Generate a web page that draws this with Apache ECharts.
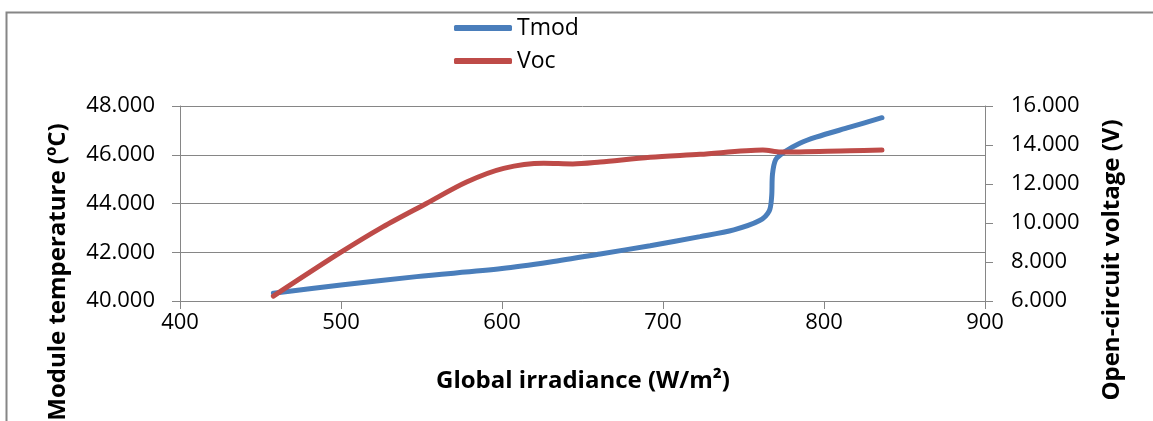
<!DOCTYPE html>
<html>
<head>
<meta charset="utf-8">
<script src="https://cdn.jsdelivr.net/npm/echarts@6/dist/echarts.min.js"></script>
<style>
html,body{margin:0;padding:0;background:#fff;}
#chart{width:1153px;height:421px;}
</style>
</head>
<body>
<div id="chart"></div>
<script>
// Global irradiance (W/m²) and module temperature (°C)
var tmodX = [458, 500, 547, 600, 630, 661, 692, 723, 744, 760, 766, 767.5, 768, 770, 775, 785, 795, 816, 836];
var tmodY = [40.32, 40.66, 41.0, 41.33, 41.6, 41.93, 42.27, 42.64, 42.92, 43.3, 43.7, 44.3, 45.2, 45.8, 46.1, 46.47, 46.72, 47.13, 47.52];
// Global irradiance (W/m²) and open-circuit voltage (V)
var vocX = [458, 499, 526, 553, 578, 601, 626, 644, 661, 692, 723, 762, 773, 816, 836];
var vocY = [6.25, 8.45, 9.8, 11.0, 12.1, 12.8, 13.06, 13.03, 13.13, 13.37, 13.52, 13.74, 13.64, 13.71, 13.74];
var xTicks = {min: 400, max: 900, interval: 100};
var leftTicks = {min: 40, max: 48, interval: 2};
var rightTicks = {min: 6, max: 16, interval: 2};
var seriesNames = ['Tmod', 'Voc'];

function pairs(xs, ys) { return xs.map(function (x, i) { return [x, ys[i]]; }); }

var FONT = "'Open Sans', 'Liberation Sans', sans-serif";
var GRAY = '#868686';
var BLUE = '#4A7EBB', RED = '#BE4B48';
var chart = echarts.init(document.getElementById('chart'), null, {renderer: 'canvas'});
var axisCommon = {
  axisLine: {show: true, lineStyle: {color: GRAY, width: 1}},
  axisTick: {show: true, inside: false, length: 8, lineStyle: {color: GRAY}},
  axisLabel: {color: '#000', fontFamily: FONT, fontSize: 22}
};
chart.setOption({
  animation: false,
  backgroundColor: '#fff',
  legend: {
    orient: 'vertical', left: 449, top: 9,
    itemWidth: 58, itemHeight: 6, itemGap: 5, icon: 'roundRect',
    textStyle: {fontFamily: FONT, fontSize: 23, color: '#000', lineHeight: 28},
    data: [{name: seriesNames[0], itemStyle: {color: BLUE}}, {name: seriesNames[1], itemStyle: {color: RED}}]
  },
  grid: {left: 180, right: 168, top: 106, bottom: 120, containLabel: false},
  xAxis: Object.assign({}, axisCommon, {
    type: 'value', min: xTicks.min, max: xTicks.max, interval: xTicks.interval,
    splitLine: {show: false},
    axisLabel: Object.assign({}, axisCommon.axisLabel, {margin: 11})
  }),
  yAxis: [
    Object.assign({}, axisCommon, {
      type: 'value', position: 'left', min: leftTicks.min, max: leftTicks.max, interval: leftTicks.interval,
      splitLine: {show: true, lineStyle: {color: GRAY, width: 1}},
      axisLabel: Object.assign({}, axisCommon.axisLabel, {margin: 25, formatter: function (v) { return v.toFixed(3); }})
    }),
    Object.assign({}, axisCommon, {
      type: 'value', position: 'right', min: rightTicks.min, max: rightTicks.max, interval: rightTicks.interval,
      splitLine: {show: false},
      axisLabel: Object.assign({}, axisCommon.axisLabel, {margin: 26, formatter: function (v) { return v.toFixed(3); }})
    })
  ],
  graphic: [
    {type: 'rect', left: 4, top: 10, shape: {width: 1200, height: 430}, style: {fill: 'none', stroke: GRAY, lineWidth: 2}, silent: true},
    {type: 'text', x: 583, y: 381, style: {text: 'Global irradiance (W/m²)', font: 'bold 24px ' + FONT, fill: '#000', align: 'center', verticalAlign: 'middle'}},
    {type: 'text', x: 58, y: 272, rotation: Math.PI / 2, style: {text: 'Module temperature (ºC)', font: 'bold 24px ' + FONT, fill: '#000', align: 'center', verticalAlign: 'middle'}},
    {type: 'text', x: 1112, y: 260, rotation: Math.PI / 2, style: {text: 'Open-circuit voltage (V)', font: 'bold 24px ' + FONT, fill: '#000', align: 'center', verticalAlign: 'middle'}}
  ],
  series: [
    {name: seriesNames[0], type: 'line', yAxisIndex: 0, data: pairs(tmodX, tmodY), smooth: 0.3, symbol: 'none',
     lineStyle: {color: BLUE, width: 5, cap: 'round'}, itemStyle: {color: BLUE}},
    {name: seriesNames[1], type: 'line', yAxisIndex: 1, data: pairs(vocX, vocY), smooth: 0.3, symbol: 'none',
     lineStyle: {color: RED, width: 5, cap: 'round'}, itemStyle: {color: RED}}
  ]
});
</script>
</body>
</html>
